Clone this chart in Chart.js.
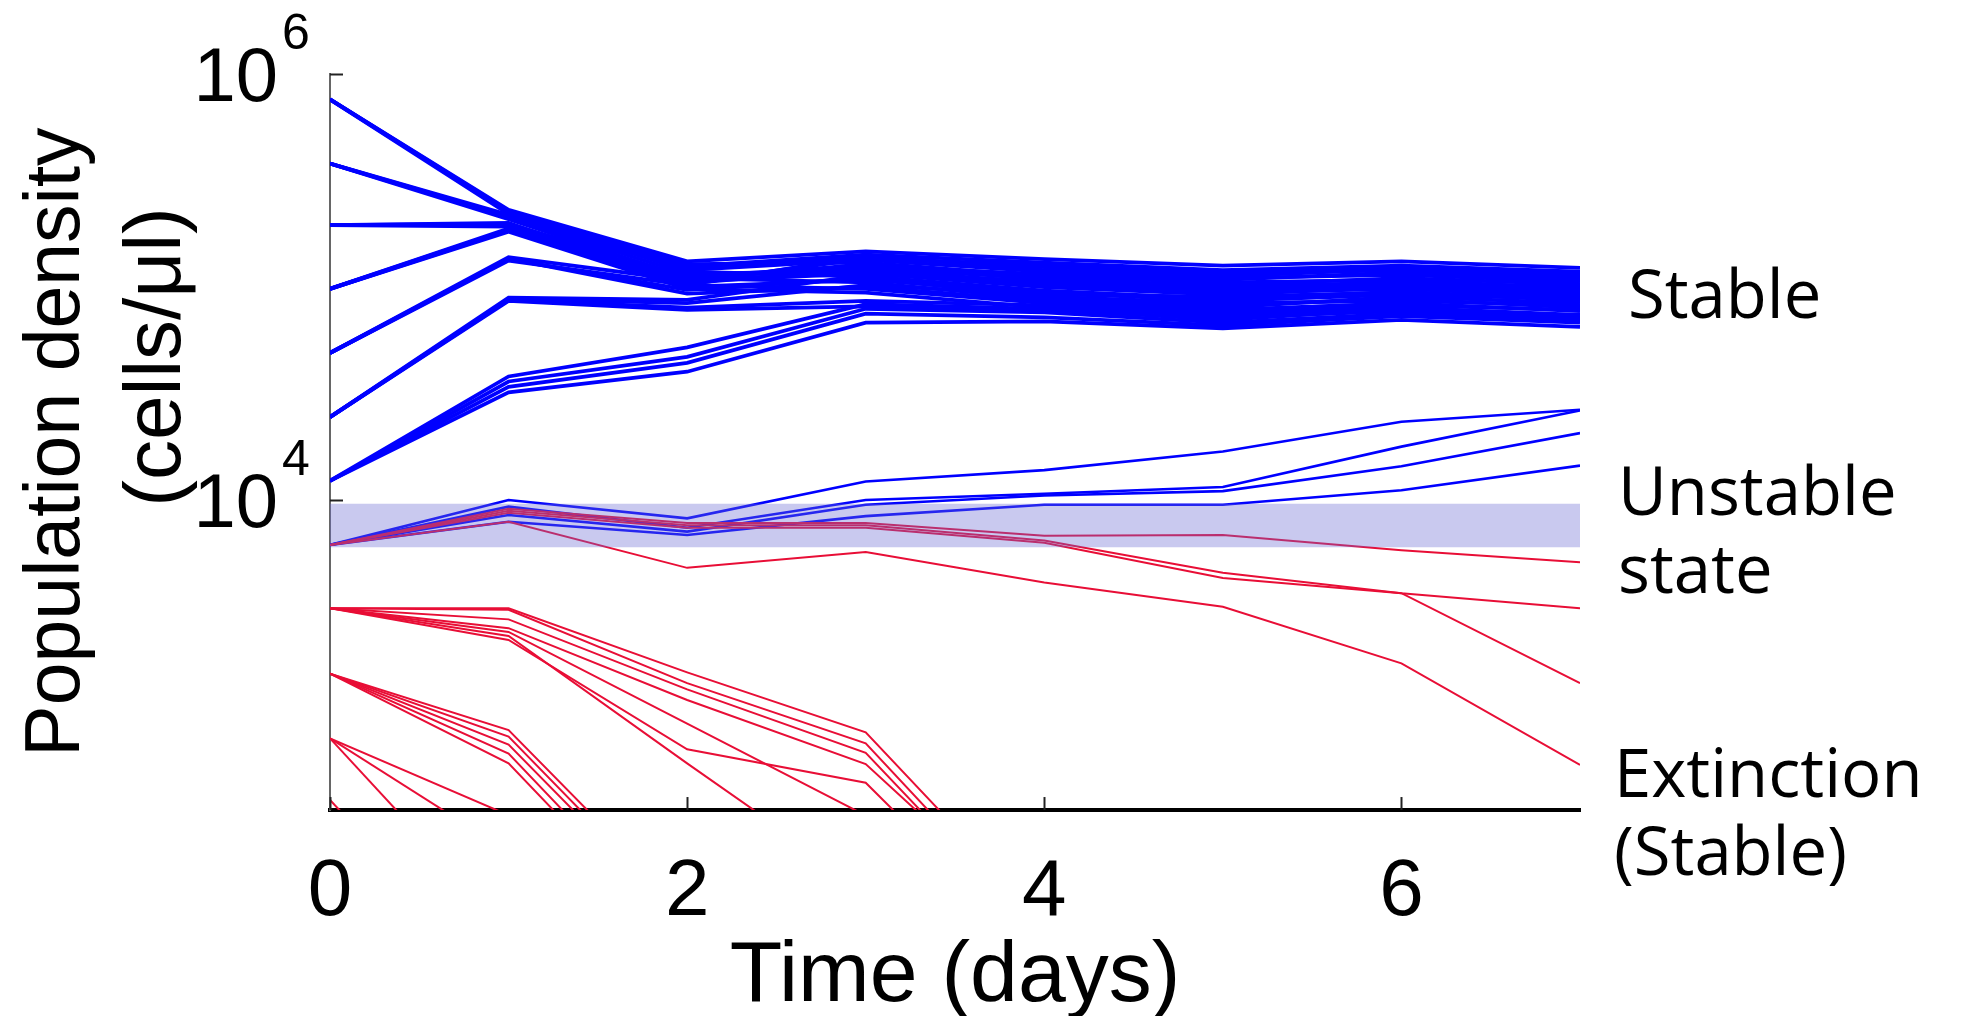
<!DOCTYPE html>
<html>
<head>
<meta charset="utf-8">
<script src="https://cdn.jsdelivr.net/npm/chart.js@4.4.1/dist/chart.umd.min.js"></script>
<style>
html, body { margin: 0; padding: 0; background: #ffffff; }
#wrap { width: 1963px; height: 1016px; }
</style>
</head>
<body>
<div id="wrap"><canvas id="c" width="1963" height="1016"></canvas></div>
<script>
// ---------------- data (cells/µl) ----------------
const days = [0, 1, 2, 3, 4, 5, 6, 7];
const xTickValues = [0, 2, 4, 6];
const yTickValues = [1e4, 1e6];
const yTickExponents = ['4', '6'];
const yMin = 350;
const yMax = 1e6;
const unstableBandLow = 6.0e3;
const unstableBandHigh = 9.6e3;

const xTitle = 'Time (days)';
const yTitle = ['Population density', '(cells/\u03bcl)'];
const labelStable = ['Stable'];
const labelUnstable = ['Unstable', 'state'];
const labelExtinction = ['Extinction', '(Stable)'];

// high-density inocula -> stable state
const stableFrom760k = [
  [7.6e5, 2.30e5, 1.32e5, 1.47e5, 1.35e5, 1.26e5, 1.32e5, 1.23e5],
  [7.6e5, 2.25e5, 1.28e5, 1.30e5, 1.12e5, 1.05e5, 1.08e5, 9.8e4],
  [7.6e5, 2.20e5, 1.22e5, 1.38e5, 1.24e5, 1.15e5, 1.20e5, 1.12e5],
  [7.6e5, 2.28e5, 1.18e5, 1.12e5, 9.6e4, 8.8e4, 9.5e4, 8.6e4]
];
const stableFrom380k = [
  [3.8e5, 2.18e5, 1.25e5, 1.42e5, 1.30e5, 1.20e5, 1.26e5, 1.18e5],
  [3.8e5, 2.12e5, 1.15e5, 1.20e5, 1.05e5, 9.6e4, 1.02e5, 9.2e4],
  [3.8e5, 2.15e5, 1.20e5, 1.34e5, 1.18e5, 1.10e5, 1.14e5, 1.06e5],
  [3.8e5, 2.08e5, 1.10e5, 1.05e5, 8.8e4, 8.2e4, 8.8e4, 8.0e4]
];
const stableFrom195k = [
  [1.95e5, 1.98e5, 1.12e5, 1.25e5, 1.15e5, 1.08e5, 1.17e5, 1.09e5],
  [1.95e5, 1.95e5, 1.06e5, 1.16e5, 1.00e5, 9.2e4, 1.00e5, 9.4e4],
  [1.95e5, 1.92e5, 1.08e5, 1.28e5, 1.08e5, 1.02e5, 1.10e5, 1.03e5],
  [1.95e5, 2.00e5, 1.02e5, 9.8e4, 8.4e4, 7.8e4, 8.4e4, 7.7e4]
];
const stableFrom98k = [
  [9.8e4, 1.88e5, 1.04e5, 1.22e5, 1.10e5, 1.00e5, 1.05e5, 1.00e5],
  [9.8e4, 1.84e5, 1.00e5, 1.08e5, 9.4e4, 8.6e4, 9.2e4, 8.8e4],
  [9.8e4, 1.86e5, 1.05e5, 1.36e5, 1.27e5, 1.18e5, 1.24e5, 1.14e5],
  [9.8e4, 1.82e5, 9.8e4, 9.4e4, 8.0e4, 7.4e4, 8.0e4, 7.4e4]
];
const stableFrom49k = [
  [4.9e4, 1.38e5, 1.07e5, 1.18e5, 1.02e5, 9.4e4, 9.8e4, 9.0e4],
  [4.9e4, 1.35e5, 9.7e4, 1.10e5, 9.0e4, 8.4e4, 8.6e4, 8.2e4],
  [4.9e4, 1.33e5, 1.02e5, 1.40e5, 1.20e5, 1.12e5, 1.22e5, 1.16e5],
  [4.9e4, 1.36e5, 9.3e4, 1.00e5, 8.6e4, 8.0e4, 9.0e4, 8.4e4]
];
const stableFrom24k = [
  [2.45e4, 8.9e4, 8.7e4, 1.14e5, 1.07e5, 9.8e4, 1.04e5, 9.6e4],
  [2.45e4, 8.8e4, 8.4e4, 1.02e5, 9.2e4, 9.0e4, 9.4e4, 8.9e4],
  [2.45e4, 8.7e4, 8.0e4, 8.6e4, 8.2e4, 7.6e4, 8.2e4, 7.8e4],
  [2.45e4, 8.6e4, 7.8e4, 8.1e4, 7.7e4, 7.2e4, 7.7e4, 7.2e4]
];
const stableFrom12k = [
  [1.23e4, 3.8e4, 5.2e4, 8.3e4, 7.9e4, 7.0e4, 7.9e4, 7.2e4],
  [1.23e4, 3.6e4, 4.7e4, 7.9e4, 7.6e4, 6.8e4, 7.5e4, 7.0e4],
  [1.23e4, 3.4e4, 4.4e4, 7.5e4, 7.2e4, 6.6e4, 7.3e4, 6.8e4],
  [1.23e4, 3.2e4, 4.0e4, 6.8e4, 6.9e4, 6.4e4, 7.0e4, 6.5e4]
];
// inocula near the unstable point
const unstableGrowing = [
  [6.15e3, 1.0e4, 8.2e3, 1.22e4, 1.38e4, 1.69e4, 2.33e4, 2.65e4],
  [6.15e3, 9.3e3, 7.4e3, 1.0e4, 1.07e4, 1.15e4, 1.78e4, 2.63e4],
  [6.15e3, 8.5e3, 7.1e3, 9.5e3, 1.05e4, 1.1e4, 1.44e4, 2.06e4],
  [6.15e3, 7.9e3, 6.85e3, 8.4e3, 9.5e3, 9.5e3, 1.11e4, 1.45e4]
];
const unstableDeclining = [
  [6.15e3, 9.1e3, 7.8e3, 7.8e3, 6.8e3, 6.85e3, 5.8e3, 5.1e3],
  [6.15e3, 8.9e3, 7.6e3, 7.6e3, 6.45e3, 4.55e3, 3.65e3, 3.1e3],
  [6.15e3, 8.7e3, 7.4e3, 7.4e3, 6.3e3, 4.3e3, 3.65e3, 1.38e3],
  [6.15e3, 7.9e3, 4.8e3, 5.7e3, 4.1e3, 3.15e3, 1.71e3, 570]
];
// low-density inocula -> extinction
const extinctFrom3k = [
  [3.1e3, 3.1e3, 1.55e3, 810, 105, null, null, null],
  [3.1e3, 3.05e3, 1.38e3, 720, 91, null, null, null],
  [3.1e3, 2.75e3, 1.29e3, 650, 85, null, null, null],
  [3.1e3, 2.5e3, 1.15e3, 575, 98, null, null, null],
  [3.1e3, 2.4e3, 890, 330, null, null, null, null],
  [3.1e3, 2.3e3, 580, 150, null, null, null, null],
  [3.1e3, 2.2e3, 675, 470, 69, null, null, null]
];
const extinctFrom1500 = [
  [1.53e3, 830, 117, null, null, null, null, null],
  [1.53e3, 775, 107, null, null, null, null, null],
  [1.53e3, 710, 100, null, null, null, null, null],
  [1.53e3, 645, 85, null, null, null, null, null],
  [1.53e3, 580, 77, null, null, null, null, null]
];
const extinctFrom760 = [
  [760, 94, null, null, null, null, null, null],
  [760, 223, null, null, null, null, null, null],
  [760, 331, null, null, null, null, null, null]
];
const extinctFrom390 = [
  [390, 50, null, null, null, null, null, null]
];

// ---------------- styling ----------------
const BLUE = 'rgb(0,0,255)';
const RED = 'rgb(232,14,54)';

function toPoints(values) {
  return values.map((v, i) => ({ x: days[i], y: v }));
}
const datasets = [];
// band (drawn on top, semi-transparent)
datasets.push({
  label: 'unstable band high', data: [{ x: days[0], y: unstableBandHigh }, { x: days[days.length - 1], y: unstableBandHigh }],
  borderWidth: 0, pointRadius: 0, fill: '+1', backgroundColor: 'rgba(105,105,212,0.36)', order: -1
});
datasets.push({
  label: 'unstable band low', data: [{ x: days[0], y: unstableBandLow }, { x: days[days.length - 1], y: unstableBandLow }],
  borderWidth: 0, pointRadius: 0, fill: false, order: -1
});
function addGroup(group, color, width, name) {
  group.forEach((vals, k) => {
    datasets.push({
      label: name + ' ' + (k + 1), data: toPoints(vals), borderColor: color, borderWidth: width,
      pointRadius: 0, fill: false, tension: 0, spanGaps: false, order: 1
    });
  });
}
addGroup(extinctFrom3k, RED, 2, 'extinct 3k');
addGroup(extinctFrom1500, RED, 2, 'extinct 1.5k');
addGroup(extinctFrom760, RED, 2, 'extinct 760');
addGroup(extinctFrom390, RED, 2, 'extinct 390');
addGroup(unstableDeclining, RED, 2, 'unstable down');
addGroup(unstableGrowing, BLUE, 2.6, 'unstable up');
addGroup(stableFrom12k, BLUE, 3.8, 'stable 12k');
addGroup(stableFrom24k, BLUE, 3.8, 'stable 24k');
addGroup(stableFrom49k, BLUE, 3.8, 'stable 49k');
addGroup(stableFrom98k, BLUE, 3.8, 'stable 98k');
addGroup(stableFrom195k, BLUE, 3.8, 'stable 195k');
addGroup(stableFrom380k, BLUE, 3.8, 'stable 380k');
addGroup(stableFrom760k, BLUE, 3.8, 'stable 760k');

const AXIS_FONT = 'Liberation Sans, Arial, Helvetica, sans-serif';
const LABEL_FONT = '"Open Sans", "DejaVu Sans", sans-serif';

const decorPlugin = {
  id: 'decor',
  afterDraw(chart) {
    const ctx = chart.ctx;
    const xs = chart.scales.x, ys = chart.scales.y;
    const a = chart.chartArea;
    ctx.save();
    // inward tick marks
    ctx.strokeStyle = '#222';
    ctx.lineWidth = 2;
    xTickValues.forEach(v => {
      const px = Math.round(xs.getPixelForValue(v)) + 0.5;
      ctx.beginPath(); ctx.moveTo(px, a.bottom); ctx.lineTo(px, a.bottom - 13); ctx.stroke();
    });
    yTickValues.forEach(v => {
      const py = Math.round(ys.getPixelForValue(v)) + 0.5;
      ctx.beginPath(); ctx.moveTo(a.left, py); ctx.lineTo(a.left + 13, py); ctx.stroke();
    });
    // y tick labels 10^n
    ctx.fillStyle = '#000';
    yTickValues.forEach((v, i) => {
      const py = ys.getPixelForValue(v);
      ctx.font = '76px ' + AXIS_FONT;
      ctx.textAlign = 'right'; ctx.textBaseline = 'alphabetic';
      ctx.fillText('10', a.left - 52, py + 27);
      ctx.font = '50px ' + AXIS_FONT;
      ctx.textAlign = 'left';
      ctx.fillText(yTickExponents[i], a.left - 48, py - 25);
    });
    // y title (rotated)
    ctx.font = '77px ' + AXIS_FONT;
    ctx.textAlign = 'center'; ctx.textBaseline = 'middle';
    ctx.save(); ctx.translate(58, (a.top + a.bottom) / 2); ctx.rotate(-Math.PI / 2);
    ctx.fillText(yTitle[0], 0, 0); ctx.restore();
    ctx.font = '80px ' + AXIS_FONT;
    ctx.save(); ctx.translate(158, 357); ctx.rotate(-Math.PI / 2);
    ctx.fillText(yTitle[1], 0, 0); ctx.restore();
    // region labels on the right
    ctx.font = '67px ' + LABEL_FONT;
    ctx.textAlign = 'left'; ctx.textBaseline = 'alphabetic';
    const lx = a.right + 38;
    ctx.fillText(labelStable[0], lx + 10, 318);
    ctx.fillText(labelUnstable[0], lx, 515);
    ctx.fillText(labelUnstable[1], lx, 593);
    ctx.fillText(labelExtinction[0], lx - 4, 797);
    ctx.fillText(labelExtinction[1], lx - 4, 875);
    ctx.restore();
  }
};

new Chart(document.getElementById('c'), {
  type: 'line',
  data: { datasets },
  options: {
    responsive: false,
    animation: false,
    parsing: true,
    normalized: true,
    layout: { padding: { left: 330, right: 383, top: 74, bottom: 0 } },
    plugins: { legend: { display: false }, tooltip: { enabled: false }, title: { display: false } },
    scales: {
      x: {
        type: 'linear', min: 0, max: 7,
        afterBuildTicks: s => { s.ticks = xTickValues.map(v => ({ value: v })); },
        grid: { display: false, drawTicks: false },
        border: { display: true, color: '#000', width: 4 },
        ticks: { color: '#000', padding: 43, maxRotation: 0, autoSkip: false,
          font: { family: AXIS_FONT, size: 80, lineHeight: 1 } },
        title: { display: true, text: xTitle, color: '#000',
          font: { family: AXIS_FONT, size: 86, lineHeight: 0.767 }, padding: { top: -32, bottom: 6 } }
      },
      y: {
        type: 'logarithmic', min: yMin, max: yMax,
        afterBuildTicks: s => { s.ticks = yTickValues.map(v => ({ value: v })); },
        grid: { display: false, drawTicks: false },
        border: { display: true, color: '#666', width: 2 },
        ticks: { display: false },
        title: { display: false }
      }
    }
  },
  plugins: [decorPlugin]
});
</script>
</body>
</html>
